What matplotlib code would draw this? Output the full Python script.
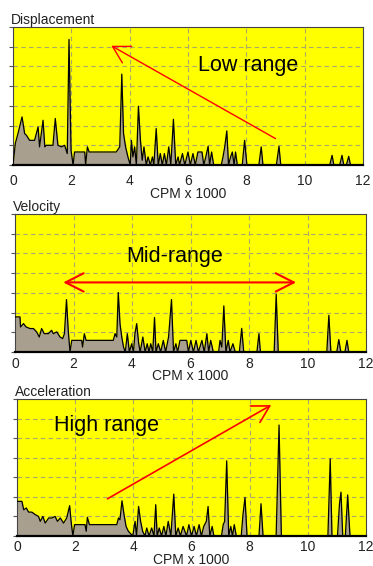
import matplotlib
matplotlib.use("Agg")
import matplotlib.pyplot as plt
from matplotlib.patches import FancyArrowPatch

plt.rcParams['font.family'] = ['Liberation Sans', 'DejaVu Sans']

# spectra, x in CPM x 1000, y in grid divisions (0..7)
disp_x = [0, 0.08, 0.17, 0.31, 0.40, 0.46, 0.57, 0.74, 0.86, 0.91, 1.03, 1.09, 1.14, 1.37, 1.45, 1.54,
          1.66, 1.77, 1.86, 1.92, 1.99, 2.06, 2.11, 2.46, 2.49, 2.55, 2.61, 3.54, 3.66, 3.73, 3.79,
          3.86, 3.94, 4.02, 4.06, 4.11, 4.17, 4.23, 4.30, 4.37, 4.43, 4.49, 4.57, 4.63, 4.71, 4.78,
          4.83, 4.91, 4.98, 5.05, 5.12, 5.19, 5.26, 5.34, 5.41, 5.50, 5.58, 5.66, 5.71, 5.81, 5.89,
          6.00, 6.08, 6.17, 6.25, 6.34, 6.48, 6.54, 6.61, 6.69, 6.74, 6.81, 6.88, 7.14, 7.20, 7.26,
          7.33, 7.39, 7.46, 7.52, 7.58, 7.63, 7.69, 7.86, 7.94, 8.02, 8.43, 8.51, 8.57, 9.03, 9.12,
          9.18, 10.86, 10.94, 11.00, 11.20, 11.28, 11.34, 11.43, 11.51, 11.57, 12.0]
disp_y = [0, 1.10, 1.59, 2.44, 1.59, 1.51, 1.25, 1.25, 1.93, 0.92, 2.27, 0.92, 1.00, 1.00, 2.36, 1.00,
          0.92, 1.00, 0.58, 6.37, 0.75, 0, 0.66, 0.66, 0, 0.92, 0.66, 0.66, 0.92, 4.61, 1.59,
          0.92, 0.41, 0, 1.25, 0.41, 0.92, 0, 2.98, 1.25, 0.24, 0.92, 0, 0.41, 0, 0.41,
          0, 1.85, 0, 0.58, 0, 0.58, 0, 0.92, 0, 2.32, 0, 0.41, 0, 0.58, 0,
          0.66, 0, 0.58, 0, 0.66, 0.66, 0, 0.41, 0.95, 0, 0.66, 0, 0, 0.41, 0.92,
          1.73, 0, 0.41, 0.66, 0, 0.66, 0, 0, 1.25, 0, 0, 0.92, 0, 0, 0.95,
          0, 0, 0.49, 0, 0, 0.49, 0, 0, 0.44, 0, 0]

vel_x = [0, 0.17, 0.19, 0.29, 0.38, 0.51, 0.63, 0.74, 0.83, 0.91, 1.00, 1.14, 1.25, 1.31, 1.43, 1.54,
         1.63, 1.69, 1.76, 1.82, 1.88, 1.94, 2.28, 2.31, 2.37, 2.43, 3.36, 3.42, 3.48, 3.53, 3.59,
         3.65, 3.71, 3.77, 3.84, 3.91, 3.99, 4.05, 4.10, 4.16, 4.23, 4.28, 4.37, 4.45, 4.52, 4.58,
         4.64, 4.71, 4.77, 4.82, 4.90, 4.98, 5.07, 5.15, 5.25, 5.35, 5.42, 5.50, 5.56, 5.64, 5.87,
         5.93, 6.01, 6.10, 6.19, 6.27, 6.39, 6.47, 6.56, 6.62, 6.69, 6.78, 6.96, 7.01, 7.07, 7.14,
         7.21, 7.29, 7.35, 7.45, 7.53, 7.67, 7.75, 7.82, 8.27, 8.34, 8.39, 8.86, 8.93, 9.00, 10.66,
         10.73, 10.80, 11.00, 11.07, 11.14, 11.28, 11.35, 11.41, 12.0]
vel_y = [1.78, 1.78, 1.27, 1.44, 1.27, 1.19, 1.19, 1.02, 0.76, 1.19, 0.93, 0.93, 1.10, 0.93, 1.02, 0.76,
         0.68, 0.93, 2.66, 1.10, 0, 0.59, 0.59, 0.25, 0.93, 0.59, 0.59, 0.93, 0.76, 3.02, 1.44,
         0.76, 0.25, 0, 0.93, 0, 0.42, 0, 0.93, 1.44, 0.42, 0, 0.76, 0, 0.42, 0,
         0.42, 0, 1.75, 0, 0.42, 0, 0.59, 0, 0.76, 2.66, 0, 0.42, 0, 0.59, 0.59,
         0, 0.59, 0, 0.59, 0, 0.59, 0, 0.93, 0, 0.59, 0, 0, 0.59, 0.25, 2.34,
         0, 0.59, 0, 0.42, 0, 0, 1.20, 0, 0, 0.93, 0, 0, 2.93, 0, 0,
         1.86, 0, 0, 0.63, 0, 0, 0.59, 0, 0]

acc_x = [0, 0.17, 0.23, 0.32, 0.40, 0.51, 0.63, 0.74, 0.80, 0.89, 0.97, 1.09, 1.20, 1.31, 1.39, 1.49,
         1.60, 1.71, 1.81, 1.86, 1.92, 1.98, 2.34, 2.38, 2.42, 2.49, 3.43, 3.49, 3.54, 3.61, 3.68,
         3.75, 3.83, 3.98, 4.06, 4.11, 4.18, 4.25, 4.32, 4.40, 4.46, 4.54, 4.63, 4.71, 4.77, 4.82,
         4.89, 4.97, 5.05, 5.12, 5.20, 5.29, 5.39, 5.46, 5.54, 5.62, 5.71, 5.83, 5.91, 6.00, 6.09,
         6.17, 6.26, 6.34, 6.42, 6.51, 6.57, 6.63, 6.71, 6.77, 7.03, 7.09, 7.14, 7.21, 7.28, 7.35,
         7.41, 7.47, 7.54, 7.71, 7.77, 7.84, 7.91, 8.32, 8.39, 8.46, 8.91, 9.01, 9.09, 10.69, 10.77,
         10.83, 11.02, 11.09, 11.14, 11.20, 11.29, 11.37, 11.45, 12.0]
acc_y = [1.77, 1.77, 1.34, 1.43, 1.22, 1.22, 1.09, 1.00, 0.75, 1.00, 0.66, 0.92, 0.92, 1.00, 0.75, 0.92,
         0.66, 0.92, 1.55, 0.75, 0, 0.58, 0.58, 0.24, 0.95, 0.58, 0.58, 0.92, 0.83, 1.80, 1.09,
         0.49, 0.24, 0, 0.75, 0, 1.51, 0.75, 0.24, 0, 0.41, 0, 0.41, 0, 1.60, 0,
         0.41, 0, 0.49, 0, 0.75, 0, 2.14, 0, 0.41, 0, 0.49, 0, 0.58, 0, 0.49,
         0, 0.58, 0, 0.49, 0.75, 1.51, 0, 0.49, 0, 0, 0.58, 0.75, 3.84, 0, 0.49,
         0, 0.58, 0, 0, 1.09, 1.97, 0, 0, 1.65, 0, 0, 5.67, 0, 0, 3.94,
         0, 0, 1.68, 2.24, 0, 0, 2.10, 0, 0]

titles = ["Displacement", "Velocity", "Acceleration"]
x_ticks = [0, 2, 4, 6, 8, 10, 12]
x_label = "CPM x 1000"

# axes rectangles in figure pixels: left, top, right, bottom
W, H = 373, 566
boxes = [(13, 27, 363, 165), (15, 214, 366, 352), (17, 399, 366, 536)]
tick_pads = [6.5, 3.5, 3.2]

fig = plt.figure(figsize=(W / 100, H / 100), dpi=100)
fig.patch.set_facecolor('white')


def draw_panel(box, xs, ys, title, pad):
    l, t, r, b = box
    ax = fig.add_axes([l / W, 1 - b / H, (r - l) / W, (b - t) / H])
    ax.set_facecolor('#ffff00')
    ax.fill_between(xs, ys, 0, color='#a89f8f', lw=0, zorder=2)
    ax.plot(xs, ys, color='black', lw=0.9, zorder=3)
    ax.set_xlim(0, 12)
    ax.set_ylim(0, 7)
    ax.set_xticks(x_ticks)
    ax.set_yticks(range(8))
    ax.set_yticklabels([])
    ax.grid(True, color='#a8a86a', ls=(0, (4, 3)), lw=0.8, zorder=1)
    ax.tick_params(axis='x', length=0, pad=pad, labelsize=10, labelcolor='#222222')
    ax.tick_params(axis='y', length=3, width=0.8, color='#555555', direction='out')
    for side in ['top', 'right', 'left']:
        ax.spines[side].set_color('#444444')
        ax.spines[side].set_linewidth(0.8)
    ax.spines['bottom'].set_color('black')
    ax.spines['bottom'].set_linewidth(1.6)
    ax.spines['bottom'].set_zorder(4)
    ax.set_xlabel(x_label, fontsize=10, color='#222222', labelpad=-1)
    ax.set_title(title, loc='left', fontsize=10, color='#222222', pad=2, x=-0.005)
    return ax


def red_arrow(ax, start, end, style, lw):
    arr = FancyArrowPatch(start, end, arrowstyle=style, mutation_scale=1,
                          color='#ff0000', lw=lw, shrinkA=0, shrinkB=0, zorder=5)
    ax.add_patch(arr)


ax1 = draw_panel(boxes[0], disp_x, disp_y, titles[0], tick_pads[0])
red_arrow(ax1, (9.0, 1.34), (3.37, 6.05), '->,head_length=12,head_width=6.8', 1.0)
ax1.text(8.06, 5.07, "Low range", fontsize=15.5, ha='center', va='center', zorder=6)

ax2 = draw_panel(boxes[1], vel_x, vel_y, titles[1], tick_pads[1])
red_arrow(ax2, (1.65, 3.53), (9.61, 3.53), '<->,head_length=13,head_width=6.6', 1.5)
ax2.text(5.47, 4.83, "Mid-range", fontsize=15.5, ha='center', va='center', zorder=6)

ax3 = draw_panel(boxes[2], acc_x, acc_y, titles[2], tick_pads[2])
red_arrow(ax3, (3.11, 1.90), (8.74, 6.69), '->,head_length=12,head_width=6.8', 1.2)
ax3.text(3.09, 5.67, "High range", fontsize=15.5, ha='center', va='center', zorder=6)

fig.savefig("out.png", dpi=100, facecolor='white')
